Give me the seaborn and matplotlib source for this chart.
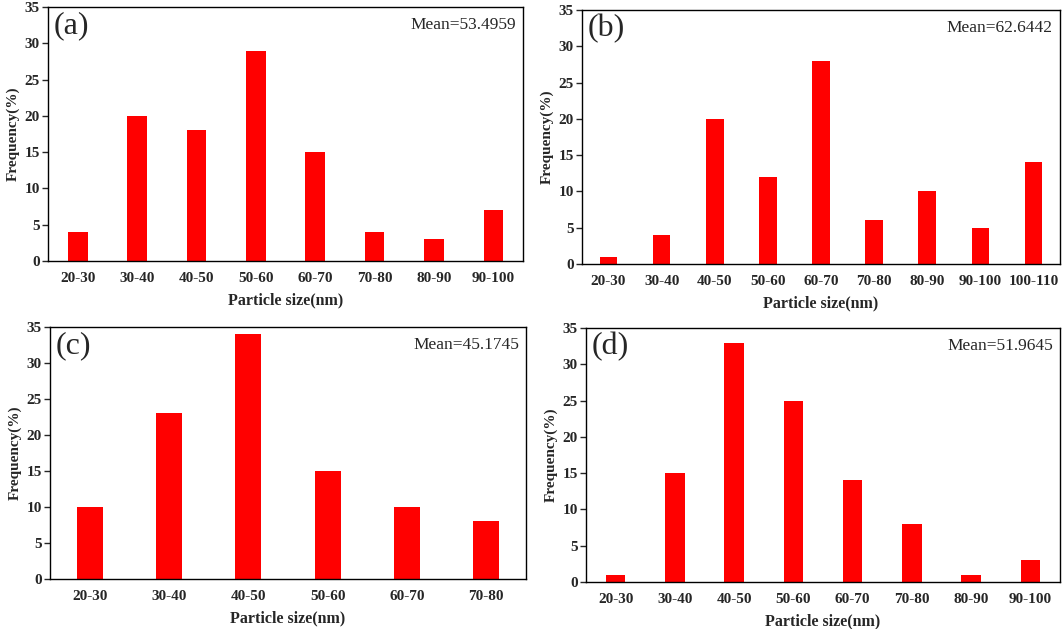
import matplotlib
matplotlib.use("Agg")
import matplotlib.pyplot as plt
import pandas as pd
import seaborn as sns

# particle size distributions for the four samples
bins_a = ["20-30", "30-40", "40-50", "50-60", "60-70", "70-80", "80-90", "90-100"]
freq_a = [4, 20, 18, 29, 15, 4, 3, 7]
mean_a = "Mean=53.4959"

bins_b = ["20-30", "30-40", "40-50", "50-60", "60-70", "70-80", "80-90", "90-100", "100-110"]
freq_b = [1, 4, 20, 12, 28, 6, 10, 5, 14]
mean_b = "Mean=62.6442"

bins_c = ["20-30", "30-40", "40-50", "50-60", "60-70", "70-80"]
freq_c = [10, 23, 34, 15, 10, 8]
mean_c = "Mean=45.1745"

bins_d = ["20-30", "30-40", "40-50", "50-60", "60-70", "70-80", "80-90", "90-100"]
freq_d = [1, 15, 33, 25, 14, 8, 1, 3]
mean_d = "Mean=51.9645"

sns.set_style("ticks")
plt.rcParams["font.family"] = ["Liberation Serif", "DejaVu Serif"]

fig = plt.figure(figsize=(10.63, 6.29), dpi=100)

panels = [
    ("(a)", bins_a, freq_a, mean_a, [0.0452, 0.5850, 0.4469, 0.4038]),
    ("(b)", bins_b, freq_b, mean_b, [0.5475, 0.5803, 0.4497, 0.4038]),
    ("(c)", bins_c, freq_c, mean_c, [0.0470, 0.0795, 0.4478, 0.4006]),
    ("(d)", bins_d, freq_d, mean_d, [0.5513, 0.0747, 0.4459, 0.4038]),
]

for tag, bins, freq, mean_txt, pos in panels:
    ax = fig.add_axes(pos)
    df = pd.DataFrame({"size": bins, "freq": freq})
    sns.barplot(data=df, x="size", y="freq", color="#ff0000", saturation=1,
                width=0.33, linewidth=0, ax=ax)
    ax.set_ylim(0, 35)
    ax.set_yticks(range(0, 36, 5))
    ax.set_xlabel("Particle size(nm)", fontsize=11.5, fontweight="bold", labelpad=5)
    ax.set_ylabel("Frequency(%)", fontsize=11, fontweight="bold", labelpad=3)
    ax.tick_params(axis="x", length=0, pad=8, labelsize=11)
    ax.tick_params(axis="y", length=4, width=1, direction="out", pad=2, labelsize=11)
    for lab in ax.get_xticklabels() + ax.get_yticklabels():
        lab.set_fontweight("bold")
    for sp in ax.spines.values():
        sp.set_visible(True)
        sp.set_linewidth(1)
        sp.set_color("black")
    ax.text(0.012, 0.985, tag, transform=ax.transAxes, fontsize=23,
            ha="left", va="top")
    ax.text(0.985, 0.93, mean_txt, transform=ax.transAxes, fontsize=12.5,
            ha="right", va="center")

fig.savefig("out.png", dpi=100)
